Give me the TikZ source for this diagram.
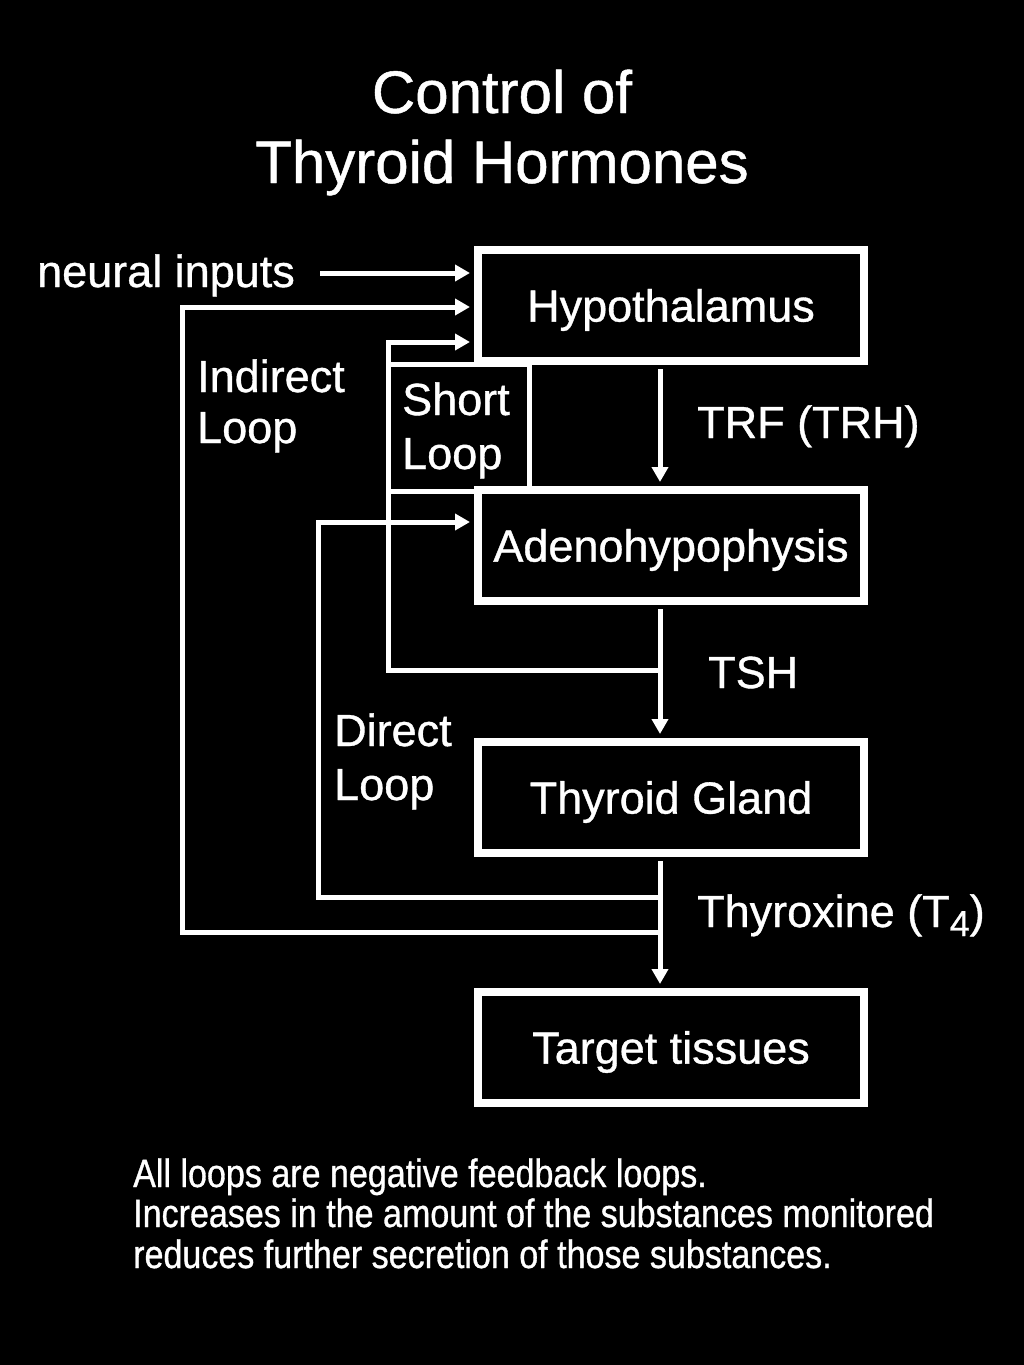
\documentclass[tikz,border=0pt]{standalone}
\usepackage{fontspec}
\newfontfamily\mainfnt{Liberation Sans}[FakeBold=0.8]
\newfontfamily\condfont{Liberation Sans}[FakeStretch=0.86,FakeBold=0.8]
\usetikzlibrary{arrows.meta}
\begin{document}
\begin{tikzpicture}[x=1pt,y=-1pt,
  box/.style={draw=white, line width=8pt, minimum width=386pt, minimum height=111pt,
    inner sep=0pt, text=white, text height=32.2pt, text depth=0pt,
    font=\mainfnt\fontsize{45}{54}\selectfont},
  lbl/.style={text=white, inner sep=0pt, anchor=base west, font=\mainfnt\fontsize{45}{54}\selectfont},
  ttl/.style={text=white, inner sep=0pt, anchor=base, font=\mainfnt\fontsize{60}{70}\selectfont},
  note/.style={text=white, inner sep=0pt, anchor=base west, font=\condfont\fontsize{39.6}{40}\selectfont},
  wire/.style={draw=white, line width=5pt},
  arr/.style={wire, -{Triangle[length=15pt,width=16pt]}},
  intobox/.style={arr, shorten >=4pt}
]
\fill[black] (0,0) rectangle (1024,1365);
\useasboundingbox (0,0) rectangle (1024,1365);

% title
\node[ttl] (t1) at (502,113) {Control of};
\node[ttl] (t2) at (502,183) {Thyroid Hormones};

% boxes
\node[box] (hyp) at (671,305.5) {Hypothalamus};
\node[box] (ade) at (671,545.5) {Adenohypophysis};
\node[box] (thy) at (671,797.5) {Thyroid Gland};
\node[box] (tgt) at (671,1047.5) {Target tissues};

% spine coordinate
\coordinate (spine) at (660,0);

% main chain
\draw[intobox] (hyp.south -| spine) ++(0,4) -- (ade.north -| spine);
\draw[intobox] (ade.south -| spine) ++(0,4) -- (thy.north -| spine);
\draw[intobox] (thy.south -| spine) ++(0,4) -- (tgt.north -| spine);

% neural inputs
\node[lbl] (neural) at (37,287) {neural inputs};
\coordinate (nstart) at (320,273);
\draw[intobox] (nstart) -- (nstart -| hyp.west);

% indirect loop
\coordinate (ind0) at (660,932);
\coordinate (indc) at (182,307);
\draw[intobox] (ind0) -| (indc) -- (indc -| hyp.west);

% direct loop
\coordinate (dir0) at (660,897);
\coordinate (dirc) at (318,522);
\draw[intobox] (dir0) -| (dirc) -- (dirc -| ade.west);

% short loop
\coordinate (sh0) at (660,670);
\coordinate (shc) at (388,342);
\draw[intobox] (sh0) -| (shc) -- (shc -| hyp.west);
\draw[wire] (388,364.5) rectangle (529,491);

% loop labels
\node[lbl] (ind1) at (197,392) {Indirect};
\node[lbl] (ind2) at (197,443) {Loop};
\node[lbl] (sl1) at (402,415) {Short};
\node[lbl] (sl2) at (402,469) {Loop};
\node[lbl] (dl1) at (334,746) {Direct};
\node[lbl] (dl2) at (334,800) {Loop};

% hormone labels
\node[lbl] (trf) at (697,438) {TRF (TRH)};
\node[lbl] (tsh) at (708,688) {TSH};
\node[lbl] (t4) at (697,927) {Thyroxine (T\raisebox{-9pt}{\fontsize{36}{36}\selectfont 4})};

% notes
\node[note] (n1) at (133,1187) {All loops are negative feedback loops.};
\node[note] (n2) at (133,1227) {Increases in the amount of the substances monitored};
\node[note] (n3) at (133,1268) {reduces further secretion of those substances.};
\end{tikzpicture}
\end{document}
